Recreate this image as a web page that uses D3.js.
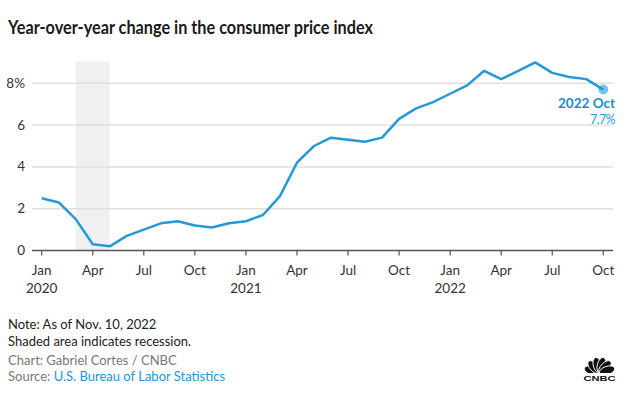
<!DOCTYPE html>
<html><head><meta charset="utf-8">
<script src="https://cdn.jsdelivr.net/npm/d3@7"></script>
<style>body{margin:0;background:#fff;} svg{display:block;font-family:Lato,"Open Sans",sans-serif;}</style>
</head><body><svg id="c" width="630" height="406"></svg>
<script>
const months = ["Jan","Feb","Mar","Apr","May","Jun","Jul","Aug","Sep","Oct","Nov","Dec"];
const startYear = 2020;
const cpiValues = [2.5,2.3,1.5,0.3,0.2,0.7,1.0,1.3,1.4,1.2,1.1,1.3,
                   1.4,1.7,2.6,4.2,5.0,5.4,5.3,5.2,5.4,6.3,6.8,7.1,
                   7.5,7.9,8.6,8.2,8.6,9.0,8.5,8.3,8.2,7.7];
const yTicks = [0,2,4,6,8];
const xTickIdx = [0,3,6,9,12,15,18,21,24,27,30,33];
const recession = [2,4];
const lastLabel = "2022 Oct";
const lastValue = "7.7%";

const svg = d3.select("#c");
const x = d3.scaleLinear().domain([0,33]).range([41.7,603.3]);
const y = d3.scaleLinear().domain([0,8]).range([250.5,83.3]);
const plotL = 32, plotR = 613;
const blue = "#2399d8";

svg.append("text").attr("x",8).attr("y",34).attr("font-size",19).attr("font-weight",700)
  .attr("fill","#1a1a1a").attr("textLength",365).attr("lengthAdjust","spacingAndGlyphs")
  .text("Year-over-year change in the consumer price index");

// recession shading
svg.append("rect").attr("x",x(recession[0])).attr("width",x(recession[1])-x(recession[0]))
  .attr("y",61.5).attr("height",y(0)-61.5).attr("fill","#f0f0f0");

// grid
svg.append("g").selectAll("line").data(yTicks.filter(d=>d>0)).join("line")
  .attr("x1",plotL).attr("x2",plotR).attr("y1",d=>y(d)).attr("y2",d=>y(d))
  .attr("stroke","#e0e0e0").attr("stroke-width",1.5);
svg.append("g").selectAll("text").data(yTicks).join("text")
  .attr("x",25).attr("y",d=>y(d)+4.5).attr("text-anchor","end").attr("font-size",13.5).attr("fill","#333")
  .text(d=>d===8?d+"%":d);

// x axis
const xa = svg.append("g");
xa.append("line").attr("x1",plotL).attr("x2",plotR).attr("y1",y(0)).attr("y2",y(0))
  .attr("stroke","#555").attr("stroke-width",1.5);
xa.selectAll("line.t").data(xTickIdx).join("line").attr("class","t")
  .attr("x1",d=>x(d)).attr("x2",d=>x(d)).attr("y1",y(0)).attr("y2",y(0)+5)
  .attr("stroke","#555").attr("stroke-width",1.2);
xa.selectAll("text.m").data(xTickIdx).join("text").attr("class","m")
  .attr("x",d=>x(d)).attr("y",275).attr("text-anchor","middle").attr("font-size",13.5).attr("fill","#333")
  .text(d=>months[d%12]);
xa.selectAll("text.yr").data(xTickIdx.filter(d=>d%12===0)).join("text").attr("class","yr")
  .attr("x",d=>x(d)).attr("y",292.5).attr("text-anchor","middle").attr("font-size",13.5).attr("fill","#333")
  .text(d=>startYear + d/12);

// line
svg.append("path").datum(cpiValues)
  .attr("d",d3.line().x((d,i)=>x(i)).y(d=>y(d)))
  .attr("fill","none").attr("stroke",blue).attr("stroke-width",2.5).attr("stroke-linejoin","round");
const li = cpiValues.length-1;
svg.append("circle").attr("cx",x(li)).attr("cy",y(cpiValues[li])).attr("r",5)
  .attr("fill",blue).attr("fill-opacity",0.6);
svg.append("text").attr("x",615).attr("y",108).attr("text-anchor","end").attr("font-size",13.5)
  .attr("font-weight",700).attr("fill","#1d8ccc").text(lastLabel);
svg.append("text").attr("x",615).attr("y",124).attr("text-anchor","end").attr("font-size",12.5)
  .attr("fill","#2399d8").attr("letter-spacing",-0.6).text(lastValue);

// footer
const f = svg.append("g").attr("font-size",13);
f.append("text").attr("x",8).attr("y",328.5).attr("fill","#222").text("Note: As of Nov. 10, 2022");
f.append("text").attr("x",8).attr("y",346).attr("fill","#222").text("Shaded area indicates recession.");
f.append("text").attr("x",8).attr("y",365).attr("fill","#777").text("Chart: Gabriel Cortes / CNBC");
const s = f.append("text").attr("x",8).attr("y",381);
s.append("tspan").attr("fill","#777").text("Source: ");
s.append("tspan").attr("fill","#1f95d4").text("U.S. Bureau of Labor Statistics");

// CNBC logo
const lg = svg.append("g").attr("transform","translate(599.5,373)");
[-72,-43,-14.5,14.5,43,72].forEach(a=>{
  lg.append("ellipse").attr("cx",0).attr("cy",-8).attr("rx",4.2).attr("ry",8)
    .attr("transform",`rotate(${a})`).attr("fill","#111").attr("stroke","#fff").attr("stroke-width",0.9);
});
lg.append("rect").attr("x",-18).attr("y",0).attr("width",36).attr("height",10).attr("fill","#fff");
lg.append("text").attr("x",0).attr("y",7.5).attr("text-anchor","middle").attr("font-size",8)
  .attr("font-weight",900).attr("fill","#111").attr("font-family","Arial, 'Liberation Sans', sans-serif")
  .attr("textLength",32).attr("lengthAdjust","spacingAndGlyphs").text("CNBC");
</script></body></html>
